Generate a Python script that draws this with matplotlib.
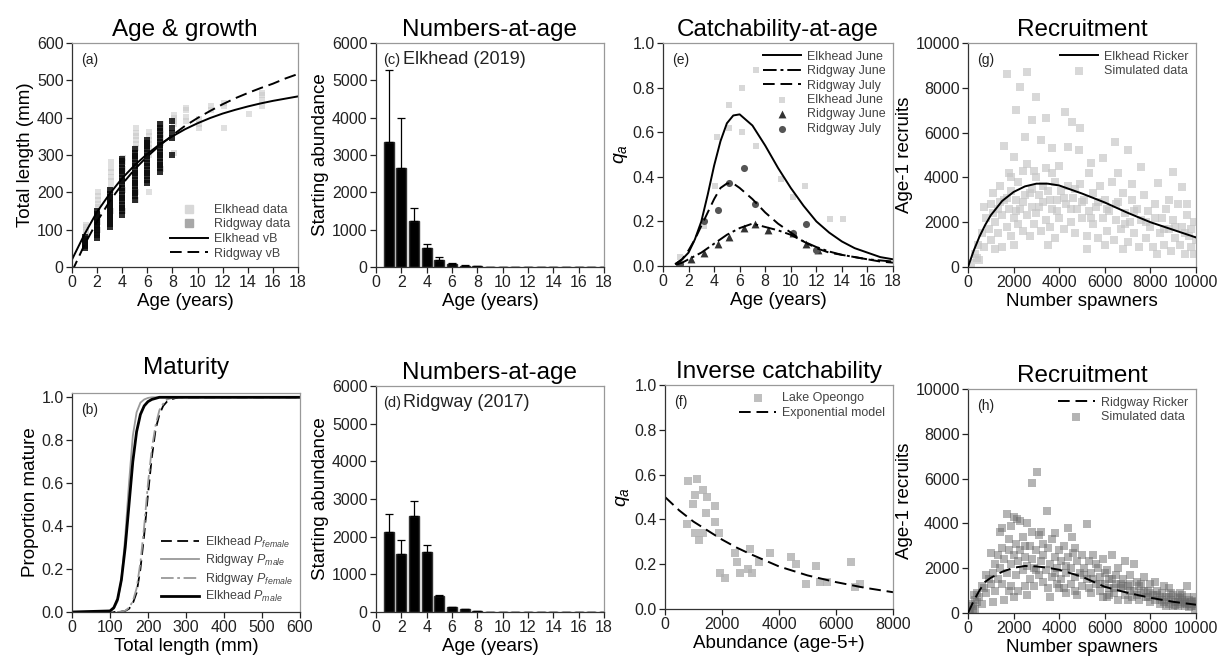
import matplotlib
matplotlib.use("Agg")
import matplotlib.pyplot as plt
from matplotlib.lines import Line2D
import numpy as np

plt.rcParams['font.family'] = ['Liberation Sans', 'DejaVu Sans']
plt.rcParams['mathtext.fontset'] = 'custom'
plt.rcParams['mathtext.rm'] = 'Liberation Sans'
plt.rcParams['mathtext.it'] = 'Liberation Sans:italic'

# ---- (a) age & growth ----
vb_age = list(range(0, 19))
vb_elk = [20, 88, 148, 196, 238, 273, 303, 329, 350, 369, 385, 399, 411, 421, 430, 438, 445, 451, 457]
vb_rid = [-12, 60, 122, 176, 222, 262, 296, 326, 353, 378, 399, 418, 436, 452, 466, 479, 491, 505, 517]
rid_len = {1: [50, 55, 60, 65, 70, 75, 80],
           2: [78, 85, 92, 99, 106, 113, 120, 127, 134, 141, 150],
           3: [108, 116, 124, 132, 140, 148, 156, 164, 172, 180, 188, 196, 205],
           4: [140, 149, 158, 167, 176, 185, 194, 203, 212, 221, 230, 239, 248, 257, 266, 275, 284, 290],
           5: [180, 189, 198, 207, 216, 225, 234, 243, 252, 261, 270, 279, 288, 297, 306, 315],
           6: [225, 234, 243, 252, 261, 270, 279, 288, 297, 306, 315, 324, 333, 340],
           7: [255, 264, 273, 282, 291, 300, 309, 318, 327, 336, 345, 354, 363, 372, 382],
           8: [300, 345, 360, 372, 392]}
elk_len = {1: [85, 95, 100, 106, 112], 2: [100, 120, 140, 160, 170, 180, 190, 200], 3: [150, 205, 215, 230, 240, 255, 265, 280],
           4: [150, 205, 262, 280, 292], 5: [180, 200, 320, 330, 340, 350, 360, 372], 6: [200, 300, 320, 330, 340, 352, 362],
           7: [262, 332, 345, 355, 366, 382], 8: [305, 382, 390, 400, 408], 9: [390, 402, 420, 426],
           10: [372, 382, 396], 11: [420, 431], 12: [372, 430, 440], 14: [410],
           15: [430, 446, 460, 466]}

# ---- (b) maturity ----
mat_len = [0, 100, 110, 120, 130, 140, 150, 160, 170, 180, 190, 200, 210, 220, 230, 240, 250, 260, 280, 300, 600]
elk_male = [0, 0.005, 0.02, 0.06, 0.15, 0.30, 0.50, 0.70, 0.84, 0.92, 0.96, 0.98, 0.99, 0.995, 1, 1, 1, 1, 1, 1, 1]
rid_male = [0, 0.003, 0.015, 0.05, 0.15, 0.35, 0.60, 0.82, 0.93, 0.975, 0.99, 0.997, 1, 1, 1, 1, 1, 1, 1, 1, 1]
elk_fem = [0, 0, 0, 0, 0.002, 0.005, 0.015, 0.04, 0.09, 0.20, 0.36, 0.55, 0.72, 0.85, 0.92, 0.96, 0.98, 0.99, 1, 1, 1]
rid_fem = [0, 0, 0, 0, 0.002, 0.006, 0.02, 0.05, 0.11, 0.23, 0.40, 0.60, 0.76, 0.87, 0.94, 0.97, 0.99, 0.995, 1, 1, 1]

# ---- (c), (d) numbers-at-age ----
ages = list(range(1, 19))
elk_n = [3350, 2650, 1230, 510, 200, 90, 40, 15, 8, 5, 3, 2, 2, 1, 1, 1, 0, 0]
elk_err = [1930, 1330, 340, 110, 60, 20, 8, 3, 0, 0, 0, 0, 0, 0, 0, 0, 0, 0]
rid_n = [2130, 1550, 2550, 1580, 420, 120, 80, 20, 10, 8, 5, 4, 3, 2, 2, 1, 1, 0]
rid_err = [470, 370, 410, 200, 30, 10, 5, 0, 0, 0, 0, 0, 0, 0, 0, 0, 0, 0]

# ---- (e) catchability-at-age ----
q_age = [1, 1.5, 2, 2.5, 3, 3.5, 4, 4.5, 5, 5.5, 6, 7, 8, 9, 10, 11, 12, 13, 14, 15, 16, 17, 18]
q_elk_june = [0.01, 0.03, 0.06, 0.12, 0.20, 0.32, 0.45, 0.56, 0.64, 0.675, 0.68, 0.63, 0.54, 0.44, 0.35, 0.27, 0.20, 0.15, 0.11, 0.08, 0.06, 0.04, 0.03]
q_rid_june = [0.005, 0.015, 0.03, 0.045, 0.06, 0.08, 0.10, 0.12, 0.14, 0.155, 0.17, 0.19, 0.175, 0.16, 0.14, 0.11, 0.085, 0.065, 0.05, 0.04, 0.03, 0.025, 0.02]
q_rid_july = [0.01, 0.03, 0.07, 0.12, 0.18, 0.24, 0.30, 0.35, 0.37, 0.37, 0.35, 0.30, 0.24, 0.19, 0.15, 0.11, 0.08, 0.06, 0.05, 0.04, 0.03, 0.02, 0.015]
pt_elk_june_x = [1.3, 3.2, 4.1, 4.2, 5.2, 5.2, 6.2, 6.2, 7.3, 7.3, 9.2, 10.2, 11.1, 13.1, 14.1]
pt_elk_june_y = [0.04, 0.18, 0.36, 0.58, 0.72, 0.62, 0.80, 0.60, 0.88, 0.54, 0.39, 0.31, 0.36, 0.21, 0.21]
pt_rid_june_x = [1.3, 2.2, 3.2, 4.3, 5.2, 6.3, 7.2, 8.2, 10.2, 11.2, 12.1]
pt_rid_june_y = [0.01, 0.03, 0.06, 0.10, 0.13, 0.17, 0.19, 0.16, 0.15, 0.10, 0.07]
pt_rid_july_x = [1.3, 3.2, 4.3, 5.2, 6.3, 7.2, 10.2, 11.2, 12.0]
pt_rid_july_y = [0.01, 0.20, 0.25, 0.37, 0.44, 0.28, 0.15, 0.19, 0.07]

# ---- (f) inverse catchability ----
op_x = [818, 1110, 1050, 990, 1340, 1460, 1750, 1440, 760, 1050, 1200, 1340, 1750, 1900, 1930, 2100,
        2450, 2510, 2630, 2920, 2980, 3040, 3300, 3680, 4420, 4610, 4960, 5290, 5430, 5670, 6540, 6660, 6830]
op_y = [0.57, 0.58, 0.51, 0.47, 0.53, 0.50, 0.46, 0.43, 0.38, 0.34, 0.31, 0.34, 0.39, 0.34, 0.16, 0.14,
        0.25, 0.21, 0.16, 0.18, 0.27, 0.16, 0.21, 0.25, 0.23, 0.20, 0.11, 0.19, 0.12, 0.12, 0.21, 0.10, 0.11]
exp_x = [0, 500, 1000, 1500, 2000, 2500, 3000, 4000, 5000, 6000, 7000, 8000]
exp_y = [0.50, 0.44, 0.39, 0.35, 0.31, 0.275, 0.245, 0.19, 0.15, 0.12, 0.095, 0.075]

# ---- (g), (h) recruitment ----
rk_x = [0, 250, 500, 750, 1000, 1500, 2000, 2500, 3000, 3500, 4000, 5000, 6000, 7000, 8000, 9000, 10000]
rk_elk = [0, 730, 1350, 1870, 2310, 2950, 3350, 3600, 3720, 3720, 3640, 3280, 2880, 2420, 2000, 1660, 1320]
rk_rid = [0, 540, 1000, 1390, 1570, 1840, 2020, 2100, 2080, 2020, 1930, 1620, 1170, 900, 680, 500, 370]
g_pts = [
    (150, 200), (300, 600), (450, 1000), (400, 400), (600, 1500), (700, 900), (800, 2200), (900, 1700), (1000, 2800), (1000, 1200),
    (1100, 3300), (1200, 2000), (1300, 2600), (1300, 1500), (1400, 3600), (1500, 2300), (1500, 900), (1600, 5400), (1600, 3000), (1700, 1800),
    (1700, 8600), (1800, 2600), (1800, 4200), (1900, 3400), (1900, 1400), (2000, 4900), (2000, 2200), (2100, 7000), (2100, 3000), (2200, 1900),
    (2200, 3800), (2300, 8050), (2300, 2600), (2400, 4300), (2400, 1600), (2500, 5800), (2500, 3200), (2600, 8700), (2600, 2300), (2600, 4600),
    (2700, 1400), (2800, 6560), (2800, 3500), (2800, 2700), (2900, 1900), (3000, 7600), (3000, 4000), (3000, 2400), (3100, 3200), (3200, 5670),
    (3200, 1600), (3300, 2900), (3400, 6630), (3400, 4400), (3400, 2100), (3500, 3400), (3600, 1800), (3700, 5300), (3700, 2600), (3800, 3800),
    (3800, 1300), (3900, 3000), (4000, 2200), (4000, 4500), (4100, 3400), (4200, 1700), (4250, 6930), (4300, 2800), (4400, 5370), (4400, 3600),
    (4500, 2000), (4550, 6490), (4600, 3100), (4700, 1500), (4800, 2600), (4850, 5220), (4900, 6190), (4900, 3700), (5000, 2200), (5100, 3000),
    (5200, 1400), (5300, 4200), (5300, 2500), (5400, 4640), (5500, 1900), (5500, 3300), (5600, 2700), (5700, 1300), (5800, 3600), (5900, 4850),
    (5900, 2200), (6000, 3000), (6100, 1600), (6200, 2500), (6300, 3800), (6400, 1200), (6450, 5590), (6500, 2100), (6600, 4200), (6600, 2900),
    (6700, 1700), (6800, 3300), (6900, 2400), (7000, 1100), (7030, 5220), (7100, 2000), (7200, 3000), (7300, 1500), (7400, 2600), (7500, 900),
    (7600, 4480), (7600, 2100), (7700, 3200), (7800, 1300), (7900, 2500), (8000, 1800), (8100, 900), (8200, 2800), (8350, 3740), (8400, 1500),
    (8500, 2200), (8600, 1000), (8700, 2600), (8800, 1700), (8900, 700), (9000, 4260), (9000, 2100), (9100, 1300), (9200, 2800), (9300, 1000),
    (9370, 3590), (9400, 1800), (9500, 600), (9600, 2300), (9700, 1400), (9800, 900), (9900, 2000), (10000, 1200), (9900, 600), (8300, 600),
    (6800, 800), (5200, 800), (3500, 1000), (2000, 1000), (1200, 800), (500, 300), (9600, 2800), (8800, 3000), (7200, 3700), (6000, 1000),
    (1100, 2400), (1400, 2900), (1700, 3100), (2100, 2500), (2400, 2900), (2700, 3300), (3100, 2700), (3300, 3600), (3600, 3000), (3900, 2500),
    (4200, 3100), (4500, 2600), (4700, 3500), (5000, 2900), (5400, 2200), (5700, 2900), (6100, 2600), (6500, 2800), (6900, 1900), (7300, 2500),
    (7800, 2000), (8200, 2200), (8600, 1700), (9100, 1800), (9500, 1500), (9800, 1700), (700, 2700), (1900, 4000), (2900, 4300), (3700, 4200)]
h_pts = [
    (100, 100), (200, 300), (300, 200), (400, 500), (500, 700), (600, 400), (700, 1100), (800, 900), (900, 1500), (1000, 1300),
    (1000, 2700), (1100, 1800), (1200, 2200), (1200, 1000), (1300, 2600), (1300, 1500), (1400, 3630), (1400, 2000), (1500, 2900), (1500, 1300),
    (1500, 3800), (1600, 2400), (1600, 600), (1700, 4400), (1700, 1800), (1800, 2800), (1800, 3300), (1900, 1200), (1900, 2200), (2000, 4300),
    (2000, 2600), (2000, 700), (2100, 1700), (2100, 3100), (2200, 2300), (2200, 1000), (2300, 4100), (2300, 2800), (2400, 1900), (2400, 3400),
    (2500, 1200), (2500, 2500), (2600, 4000), (2600, 2100), (2700, 3000), (2700, 1500), (2790, 5790), (2800, 3630), (2800, 2400), (2900, 1200),
    (2900, 2000), (3000, 2800), (3010, 6310), (3100, 3500), (3100, 1700), (3200, 2300), (3200, 3600), (3300, 1400), (3300, 2600), (3450, 4550),
    (3400, 1900), (3500, 2900), (3500, 1100), (3600, 2200), (3700, 3300), (3700, 1600), (3820, 3560), (3800, 2500), (3900, 1300), (3900, 2000),
    (4000, 2800), (4100, 1500), (4100, 2300), (4200, 1100), (4200, 3000), (4300, 1800), (4400, 3780), (4400, 2500), (4500, 1300), (4500, 2000),
    (4550, 3410), (4600, 2700), (4700, 1600), (4700, 1000), (4800, 2300), (4900, 1800), (5000, 2600), (5000, 1200), (5100, 2000), (5210, 3960),
    (5200, 1500), (5300, 2300), (5400, 900), (5400, 1800), (5500, 2600), (5600, 1300), (5700, 2000), (5800, 1000), (5800, 1600), (5900, 2400),
    (6000, 1300), (6100, 700), (6100, 1900), (6200, 1100), (6300, 2600), (6300, 1500), (6400, 900), (6500, 1300), (6600, 2000), (6600, 600),
    (6700, 1100), (6800, 1500), (6900, 2300), (6900, 800), (7000, 1200), (7100, 1700), (7200, 700), (7300, 1000), (7400, 1400), (7500, 600),
    (7500, 1200), (7600, 900), (7700, 1600), (7800, 700), (7900, 1000), (8000, 500), (8000, 1300), (8100, 800), (8200, 600), (8300, 1000),
    (8400, 400), (8400, 700), (8500, 900), (8600, 500), (8700, 700), (8800, 1100), (8800, 400), (8900, 600), (9000, 800), (9000, 300),
    (9100, 500), (9200, 700), (9300, 400), (9400, 600), (9500, 300), (9500, 500), (9600, 1200), (9600, 400), (9700, 600), (9800, 300),
    (9800, 500), (9900, 700), (9900, 400), (10000, 300), (10000, 500), (9950, 200), (9700, 250), (9300, 900), (8600, 1200), (8200, 1400),
    (7300, 2200), (7000, 600), (6500, 1700), (5900, 700), (5300, 1100), (4800, 800), (4300, 900), (3600, 700), (2600, 800), (1800, 1000),
    (1100, 500), (800, 1700), (600, 1200), (400, 900), (300, 600), (200, 150), (150, 400), (50, 50), (250, 800), (1900, 3900),
    (2150, 4200), (2500, 3000), (3000, 1900), (3300, 3100), (3800, 1800), (4000, 1100), (4300, 2100), (4700, 2900), (5100, 1700), (5600, 2200),
    (6000, 1800), (6200, 800), (6800, 1200), (7100, 1000), (7600, 1300), (8900, 900), (9200, 500), (9400, 800), (8700, 300), (8000, 900),
    (8500, 600), (8800, 700), (9100, 350), (9300, 650), (9500, 450), (9700, 400), (9900, 550), (10000, 400), (9600, 700), (9200, 300),
    (8300, 800), (7900, 700), (7700, 1000), (7400, 800), (7100, 1300), (6700, 1300), (6400, 1100), (6200, 1500), (5800, 1300), (5500, 1500)]

W, H = 1225, 669
fig = plt.figure(figsize=(W / 100, H / 100), dpi=100)


def ax_at(l, t, r, b):
    ax = fig.add_axes([l / W, 1 - b / H, (r - l) / W, (b - t) / H])
    for s in ['left', 'bottom']:
        ax.spines[s].set_color('#333333')
    for s in ['top', 'right']:
        ax.spines[s].set_color('#999999')
    for s in ax.spines.values():
        s.set_linewidth(0.9)
    ax.tick_params(direction='out', length=4, width=0.9, labelsize=11.5, colors='#222222', pad=2)
    return ax


def tag(ax, s, size=10):
    ax.text(0.04, 0.955, s, transform=ax.transAxes, fontsize=size, va='top', ha='left', color='#222222')


leg_kw = dict(frameon=False, fontsize=9, labelcolor='#444444', handlelength=3, borderaxespad=0.2,
              labelspacing=0.2, handletextpad=0.5)
TS = 17.5
LS = 13.5

# (a)
ax = ax_at(72, 43, 298, 267)
for a, vals in elk_len.items():
    ax.scatter([a + 0.1] * len(vals), vals, s=22, marker='s', color='#c8c8c8', alpha=0.55, lw=0)
for a, vals in rid_len.items():
    ax.scatter([a] * len(vals), vals, s=20, marker='s', color='#0a0a0a', alpha=0.85, lw=0)
ax.plot(vb_age, vb_elk, color='black', lw=1.4)
ax.plot(vb_age, vb_rid, color='black', lw=1.4, ls=(0, (6, 3)))
ax.set_xlim(0, 18)
ax.set_ylim(0, 600)
ax.set_xticks(range(0, 19, 2))
ax.set_yticks(range(0, 601, 100))
ax.set_title('Age & growth', fontsize=TS, pad=5)
ax.set_xlabel('Age (years)', fontsize=LS, labelpad=2)
ax.set_ylabel('Total length (mm)', fontsize=LS, labelpad=2)
tag(ax, '(a)')
hs = [Line2D([], [], ls='none', marker='s', ms=6, color='#d8d8d8'),
      Line2D([], [], ls='none', marker='s', ms=6, color='#a8a8a8'),
      Line2D([], [], color='black', lw=1.4),
      Line2D([], [], color='black', lw=1.4, ls=(0, (6, 3)))]
ax.legend(hs, ['Elkhead data', 'Ridgway data', 'Elkhead vB', 'Ridgway vB'], loc='lower right', **leg_kw)

# (b)
ax = ax_at(72, 393, 300, 612)
ax.plot(mat_len, elk_fem, color='black', lw=1.3, ls=(0, (6, 3)), label=r'Elkhead $P_{female}$')
ax.plot(mat_len, rid_male, color='#999999', lw=1.3, label=r'Ridgway $P_{male}$')
ax.plot(mat_len, rid_fem, color='#999999', lw=1.3, ls=(0, (7, 2, 1.5, 2)), label=r'Ridgway $P_{female}$')
ax.plot(mat_len, elk_male, color='black', lw=2.0, label=r'Elkhead $P_{male}$')
ax.set_xlim(0, 600)
ax.set_ylim(0, 1.02)
ax.set_xticks(range(0, 601, 100))
ax.set_yticks([0, 0.2, 0.4, 0.6, 0.8, 1.0])
ax.set_yticklabels(['0.0', '0.2', '0.4', '0.6', '0.8', '1.0'])
ax.set_title('Maturity', fontsize=TS, pad=14)
ax.set_xlabel('Total length (mm)', fontsize=LS, labelpad=2)
ax.set_ylabel('Proportion mature', fontsize=LS, labelpad=2)
tag(ax, '(b)')
ax.legend(loc='lower right', **leg_kw)

# (c), (d)
for (l, t, r, b), vals, err, lab in [((376, 43, 604, 267), elk_n, elk_err, 'Elkhead (2019)'),
                                     ((376, 386, 604, 612), rid_n, rid_err, 'Ridgway (2017)')]:
    ax = ax_at(l, t, r, b)
    ax.bar(ages, vals, width=0.8, color='black', edgecolor='#333333')
    ax.errorbar(ages, vals, yerr=[np.zeros(len(err)), err], fmt='none', ecolor='black',
                elinewidth=0.9, capsize=3, capthick=0.9)
    ax.set_xlim(0, 18)
    ax.set_ylim(0, 6000)
    ax.set_xticks(range(0, 19, 2))
    ax.set_yticks(range(0, 6001, 1000))
    ax.set_title('Numbers-at-age', fontsize=TS, pad=5)
    ax.set_xlabel('Age (years)', fontsize=LS, labelpad=2)
    ax.set_ylabel('Starting abundance', fontsize=LS, labelpad=2)
    letter = '(c)' if 'Elk' in lab else '(d)'
    ax.text(0.03, 0.955, letter, transform=ax.transAxes, fontsize=10.5, va='top', color='#222222')
    ax.text(0.12, 0.965, lab, transform=ax.transAxes, fontsize=13, va='top', color='#222222')

# (e)
ax = ax_at(663, 43, 893, 266)
ax.plot(q_age, q_elk_june, color='black', lw=1.4, label='Elkhead June')
ax.plot(q_age, q_rid_june, color='black', lw=1.4, ls=(0, (7, 2, 1.5, 2)), label='Ridgway June')
ax.plot(q_age, q_rid_july, color='black', lw=1.4, ls=(0, (6, 3)), label='Ridgway July')
ax.scatter(pt_elk_june_x, pt_elk_june_y, s=24, marker='s', color='#d8d8d8', lw=0, label='Elkhead June')
ax.scatter(pt_rid_june_x, pt_rid_june_y, s=32, marker='^', color='#333333', lw=0, label='Ridgway June')
ax.scatter(pt_rid_july_x, pt_rid_july_y, s=26, marker='o', color='#555555', lw=0, label='Ridgway July')
ax.set_xlim(0, 18)
ax.set_ylim(0, 1.0)
ax.set_xticks(range(0, 19, 2))
ax.set_yticks([0, 0.2, 0.4, 0.6, 0.8, 1.0])
ax.set_yticklabels(['0.0', '0.2', '0.4', '0.6', '0.8', '1.0'])
ax.set_title('Catchability-at-age', fontsize=TS, pad=5)
ax.set_xlabel('Age (years)', fontsize=LS, labelpad=2)
ax.set_ylabel(r'$q_a$', fontsize=14, labelpad=2)
tag(ax, '(e)')
ax.legend(loc='upper right', **leg_kw)

# (f)
ax = ax_at(665, 385, 893, 609)
ax.scatter(op_x, op_y, s=30, marker='s', color='#b0b0b0', alpha=0.8, lw=0, label='Lake Opeongo')
ax.plot(exp_x, exp_y, color='black', lw=1.4, ls=(0, (6, 3)), label='Exponential model')
ax.set_xlim(0, 8000)
ax.set_ylim(0, 1.0)
ax.set_xticks(range(0, 8001, 2000))
ax.set_yticks([0, 0.2, 0.4, 0.6, 0.8, 1.0])
ax.set_yticklabels(['0.0', '0.2', '0.4', '0.6', '0.8', '1.0'])
ax.set_title('Inverse catchability', fontsize=TS, pad=5)
ax.set_xlabel('Abundance (age-5+)', fontsize=LS, labelpad=2)
ax.set_ylabel(r'$q_a$', fontsize=14, labelpad=2)
tag(ax, '(f)')
ax.legend(loc='upper right', **leg_kw)

# (g), (h)
for (l, t, r, b), pts, curve, cname, ls, col, alpha, letter in [
        ((968, 43, 1196, 267), g_pts, rk_elk, 'Elkhead Ricker', '-', '#c4c4c4', 0.65, '(g)'),
        ((968, 389, 1196, 613), h_pts, rk_rid, 'Ridgway Ricker', (0, (6, 3)), '#6a6a6a', 0.5, '(h)')]:
    ax = ax_at(l, t, r, b)
    ax.plot(rk_x, curve, color='black', lw=1.4, ls=ls, label=cname, zorder=3)
    ax.scatter([p[0] for p in pts], [p[1] for p in pts], s=30, marker='s', color=col, alpha=alpha,
               lw=0, label='Simulated data', zorder=2)
    ax.set_xlim(0, 10000)
    ax.set_ylim(0, 10000)
    ax.set_xticks(range(0, 10001, 2000))
    ax.set_yticks(range(0, 10001, 2000))
    ax.set_title('Recruitment', fontsize=TS, pad=5)
    ax.set_xlabel('Number spawners', fontsize=LS, labelpad=2)
    ax.set_ylabel('Age-1 recruits', fontsize=LS, labelpad=2)
    tag(ax, letter)
    ax.legend(loc='upper right', **leg_kw)

fig.savefig('out.png', dpi=100)
